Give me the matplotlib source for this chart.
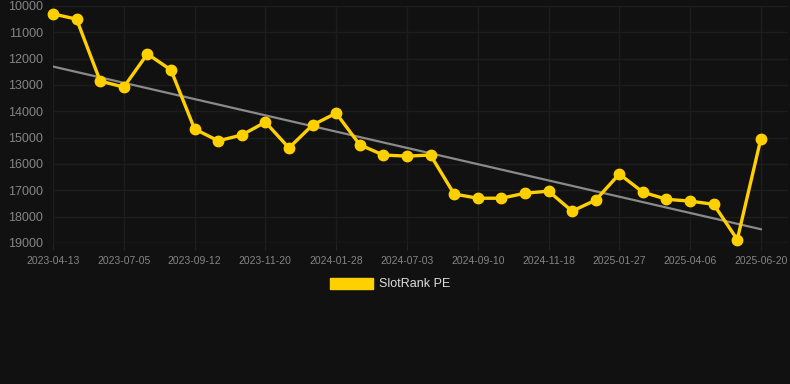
import numpy as np
import matplotlib
matplotlib.use("Agg")
from matplotlib import pyplot as plt
from matplotlib.patches import Patch

# SlotRank PE rank over time (lower number = better, axis inverted)
rank = [10300, 10500, 12850, 13080, 11820, 12430, 14670, 15120, 14900, 14410,
        15390, 14520, 14070, 15270, 15660, 15700, 15660, 17140, 17300, 17300,
        17110, 17030, 17790, 17370, 16380, 17070, 17340, 17410, 17530, 18870,
        15040]
tick_labels = ["2023-04-13", "2023-07-05", "2023-09-12", "2023-11-20", "2024-01-28",
               "2024-07-03", "2024-09-10", "2024-11-18", "2025-01-27", "2025-04-06",
               "2025-06-20"]
y_ticks = [10000, 11000, 12000, 13000, 14000, 15000, 16000, 17000, 18000, 19000]

bg = "#111111"
grid_c = "#1d1d1d"
text_c = "#858585"
yellow = "#ffd000"

plt.rcParams['font.family'] = ['Liberation Sans', 'DejaVu Sans']

fig = plt.figure(figsize=(7.9, 3.84), dpi=100, facecolor=bg)
ax = fig.add_axes([53 / 790, 1 - 243 / 384, 735 / 790, 237 / 384])
ax.set_facecolor(bg)

x = np.arange(len(rank))
# linear trend
k, b = np.polyfit(x, rank, 1)
ax.plot(x, k * x + b, color="#8a8a8a", lw=1.6, zorder=2)
ax.plot(x, rank, color=yellow, lw=2.4, marker="o", markersize=7.5, zorder=3,
        clip_on=False)

ax.set_ylim(19000, 10000)
ax.set_xlim(0, 31.15)
ax.set_yticks(y_ticks)
ax.set_xticks(np.arange(0, len(rank), 3))
ax.set_xticklabels(tick_labels)
ax.grid(True, color=grid_c, lw=1)
ax.set_axisbelow(True)
for s in ax.spines.values():
    s.set_visible(False)
ax.axhline(19000, color="#2a2a2a", lw=1, zorder=1)
ax.tick_params(axis="y", length=0, pad=7, labelsize=9, labelcolor=text_c)
ax.tick_params(axis="x", length=5, color="#222222", pad=4, labelsize=7.5, labelcolor=text_c)

leg = ax.legend(handles=[Patch(facecolor=yellow, edgecolor=yellow, label="SlotRank PE")],
                loc="center", bbox_to_anchor=(390 / 790, 1 - 284 / 384),
                bbox_transform=fig.transFigure, frameon=False, fontsize=9,
                handlelength=3.4, handleheight=1.0, handletextpad=0.5)
for t in leg.get_texts():
    t.set_color("#dddddd")

plt.savefig("out.png", dpi=100, facecolor=bg)
